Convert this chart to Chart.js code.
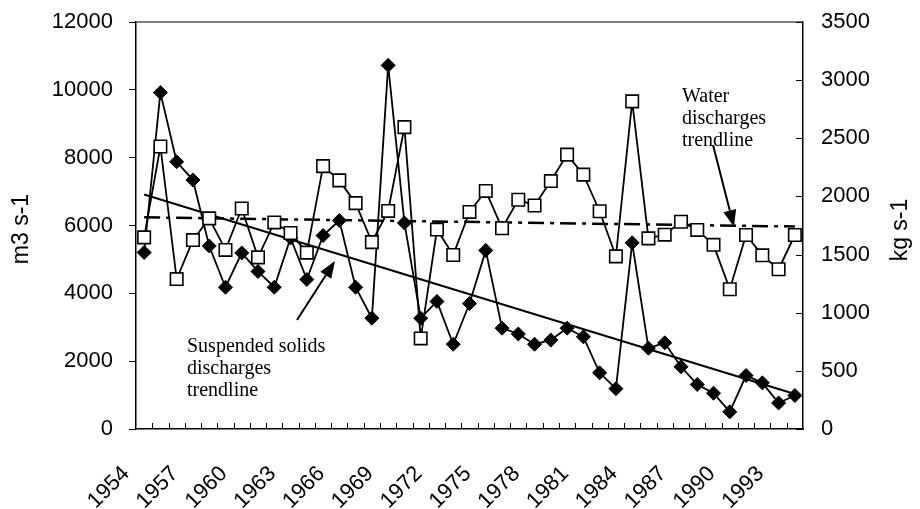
<!DOCTYPE html>
<html><head><meta charset="utf-8">
<script src="https://cdn.jsdelivr.net/npm/chart.js@4.4.0/dist/chart.umd.min.js"></script>
<style>html,body{margin:0;padding:0;background:#fff;}#wrap{width:920px;height:509px;}</style>
</head><body><div id="wrap"><canvas id="c" width="920" height="509"></canvas></div>
<script>
const years = ['1954','1955','1956','1957','1958','1959','1960','1961','1962','1963','1964','1965','1966','1967','1968','1969','1970','1971','1972','1973','1974','1975','1976','1977','1978','1979','1980','1981','1982','1983','1984','1985','1986','1987','1988','1989','1990','1991','1992','1993','1994'];
const waterDischarge = [5650,8330,4420,5570,6210,5280,6500,5060,6090,5780,5200,7750,7330,6660,5510,6430,8900,2670,5880,5130,6400,7020,5920,6760,6590,7310,8090,7500,6420,5090,9660,5620,5730,6110,5870,5430,4120,5720,5120,4710,5720];
const solidsDischarge = [1518,2893,2298,2141,1574,1219,1514,1355,1219,1643,1286,1664,1793,1219,953,3127,1772,953,1097,729,1079,1536,867,817,729,765,867,793,483,347,1601,695,741,535,383,308,148,460,397,224,288];
const waterTrend = [6240, 5970];   // trendline value at first and last year
const solidsTrend = [2017, 301];
const leftAxisTitle = 'm3 s-1';
const rightAxisTitle = 'kg s-1';
const solidsNote = ['Suspended solids','discharges','trendline'];
const waterNote = ['Water','discharges','trendline'];

const ends = (arr) => years.map((y,i) => i===0 ? arr[0] : (i===years.length-1 ? arr[1] : null));
const SANS = "'Liberation Sans', Arial, sans-serif";
const SERIF = "'Liberation Serif', 'Times New Roman', serif";
Chart.defaults.font.family = SANS;
Chart.defaults.color = '#000';

function arrow(ctx, x1, y1, x2, y2) {
  const a = Math.atan2(y2-y1, x2-x1), L = 17, W = 6.5;
  const bx = x2 - L*Math.cos(a), by = y2 - L*Math.sin(a);
  ctx.beginPath(); ctx.moveTo(x1,y1); ctx.lineTo(bx,by); ctx.lineWidth = 2; ctx.strokeStyle = '#000'; ctx.stroke();
  ctx.beginPath(); ctx.moveTo(x2,y2);
  ctx.lineTo(bx + W*Math.sin(a), by - W*Math.cos(a));
  ctx.lineTo(bx - W*Math.sin(a), by + W*Math.cos(a));
  ctx.closePath(); ctx.fillStyle = '#000'; ctx.fill();
}

const decor = {
  id: 'decor',
  afterDraw(chart) {
    const ctx = chart.ctx, ca = chart.chartArea;
    const y1 = chart.scales.y1;
    ctx.save();
    ctx.strokeStyle = '#555'; ctx.lineWidth = 1.5;
    ctx.beginPath(); ctx.moveTo(ca.left, ca.top); ctx.lineTo(ca.right, ca.top); ctx.stroke();
    ctx.strokeStyle = '#000'; ctx.lineWidth = 1;
    const step = (ca.right - ca.left) / years.length;
    for (let i = 1; i < years.length; i++) {
      const x = Math.round(ca.left + i*step) + 0.5;
      ctx.beginPath(); ctx.moveTo(x, ca.bottom); ctx.lineTo(x, ca.bottom - 6); ctx.stroke();
    }
    y1.ticks.forEach(t => {
      const y = Math.round(y1.getPixelForValue(t.value)) + 0.5;
      ctx.beginPath(); ctx.moveTo(ca.right, y); ctx.lineTo(ca.right - 7, y); ctx.stroke();
    });
    ctx.fillStyle = '#000';
    ctx.font = '23px ' + SANS; ctx.textAlign = 'center'; ctx.textBaseline = 'middle';
    ctx.save(); ctx.translate(22, 229); ctx.rotate(-Math.PI/2); ctx.fillText(leftAxisTitle, 0, 0); ctx.restore();
    ctx.save(); ctx.translate(901, 230); ctx.rotate(-Math.PI/2); ctx.fillText(rightAxisTitle, 0, 0); ctx.restore();
    ctx.font = '20px ' + SERIF; ctx.textAlign = 'left'; ctx.textBaseline = 'alphabetic';
    solidsNote.forEach((s,i) => ctx.fillText(s, 187, 352 + 22*i));
    waterNote.forEach((s,i) => ctx.fillText(s, 682, 102 + 22*i));
    arrow(ctx, 297, 320, 335, 261);
    arrow(ctx, 713, 145, 734, 227);
    ctx.restore();
  }
};

new Chart(document.getElementById('c'), {
  type: 'line',
  data: {
    labels: years,
    datasets: [
      { label: 'Water discharges', data: waterDischarge, yAxisID: 'y',
        borderColor: '#000', borderWidth: 1.8, pointStyle: 'rect', pointRadius: 8.8,
        pointBackgroundColor: '#fff', pointBorderColor: '#000', pointBorderWidth: 1.6, tension: 0 },
      { label: 'Suspended solids discharges', data: solidsDischarge, yAxisID: 'y1',
        borderColor: '#000', borderWidth: 1.8, pointStyle: 'rectRot', pointRadius: 7,
        pointBackgroundColor: '#000', pointBorderColor: '#000', pointBorderWidth: 1, tension: 0 },
      { label: 'Water discharges trendline', data: ends(waterTrend), yAxisID: 'y', spanGaps: true,
        borderColor: '#000', borderWidth: 2.5, borderDash: [16,6,4,6], pointRadius: 0 },
      { label: 'Suspended solids discharges trendline', data: ends(solidsTrend), yAxisID: 'y1', spanGaps: true,
        borderColor: '#000', borderWidth: 2, pointRadius: 0 }
    ]
  },
  options: {
    responsive: false, animation: false, devicePixelRatio: 1,
    layout: { padding: { top: 22, left: 0, right: 0, bottom: 0 } },
    plugins: { legend: { display: false }, tooltip: { enabled: false } },
    scales: {
      x: {
        type: 'category', offset: true,
        grid: { display: false, drawTicks: false },
        border: { display: true, color: '#000', width: 1.5 },
        ticks: { autoSkip: false, maxRotation: 45, minRotation: 45, padding: 32, labelOffset: -18,
          font: { size: 22 }, color: '#000',
          callback: (v, i) => (i % 3 === 0 ? years[i] : '') },
        afterFit: s => { s.height = 80; }
      },
      y: {
        position: 'left', min: 0, max: 12000,
        ticks: { stepSize: 2000, padding: 16, font: { size: 22 }, color: '#000', callback: v => String(v) },
        grid: { drawOnChartArea: false, drawTicks: true, tickLength: 7, color: '#000', lineWidth: 1 },
        border: { display: true, color: '#000', width: 1.5 },
        afterFit: s => { s.width = 136; s.paddingTop = 0; s.paddingBottom = 0; }
      },
      y1: {
        position: 'right', min: 0, max: 3500,
        ticks: { stepSize: 500, padding: 18, font: { size: 22 }, color: '#000', callback: v => String(v) },
        grid: { drawOnChartArea: false, drawTicks: false },
        border: { display: true, color: '#000', width: 1.5 },
        afterFit: s => { s.width = 117; s.paddingTop = 0; s.paddingBottom = 0; }
      }
    }
  },
  plugins: [decor]
});
</script></body></html>
